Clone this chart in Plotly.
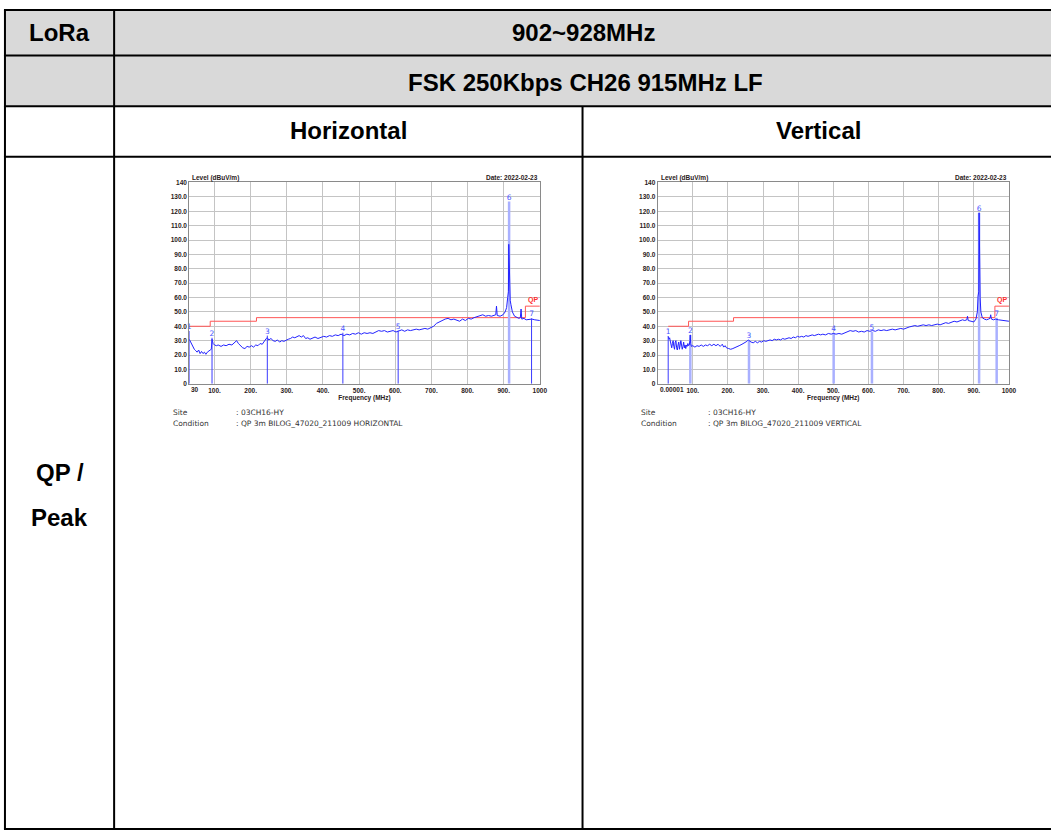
import plotly.graph_objects as go

W, H = 1051, 835

# ---------------- data ----------------
h_freq = [30, 32, 35, 40, 44, 48, 52, 56, 60, 64, 68, 72, 76, 80, 84, 88, 91, 93, 96, 100,
          105, 110, 118, 125, 132, 140, 148, 155, 161, 166, 172, 178, 184, 190, 196, 202, 208,
          214, 220, 226, 232, 238, 243, 246,
          250, 256, 262, 268, 274, 280, 286, 292, 298, 304, 310, 316, 322, 328, 334, 340, 346,
          352, 358, 364, 370, 378, 386, 394, 402, 410, 418, 426, 434, 442, 450, 458, 466, 474,
          482, 490, 498, 506, 514, 522, 530, 538, 546, 554, 562, 570, 578, 586, 594, 602, 610,
          618, 626, 634, 642, 650, 658, 666, 674, 682, 690, 698, 706, 714, 722, 730, 738, 746,
          754, 762, 770, 778, 786, 794, 802, 810, 818, 826, 834, 842, 850, 858, 866, 874, 878,
          880, 882, 890, 898, 904, 908, 911, 913, 914, 914.9, 916, 918, 920, 924, 930, 936, 942,
          946, 948, 950, 956, 962, 970, 978, 986, 994, 1000]
h_level = [31, 30, 28, 26, 24, 23, 22, 23.5, 21, 22.5, 21, 22, 20.5, 22, 23, 23.5, 24, 31, 28, 27,
           26.5, 27, 26, 27, 26.5, 27.5, 27, 28.5, 30, 28, 26.5, 25, 24.5, 26, 25.5, 26.5, 25.5,
           27, 26.5, 28, 27.5, 30, 31.5, 32,
           30.5, 31.5, 30, 29.5, 30.5, 29, 30, 29.5, 30.5, 31, 31.5, 32.5, 32, 33, 33.5, 32.5, 33.5,
           31.5, 32, 31, 31.5, 32.5, 31.5, 32.5, 33, 32.5, 33.5, 33, 34, 33.5, 34.5, 33.5, 34.5, 34,
           35, 34.5, 35.5, 34.5, 35.5, 35, 35.5, 35, 36, 37, 36.5, 37, 36, 36.5, 37, 36, 36.5,
           37.5, 36.5, 37.5, 37, 37.5, 38, 37.5, 38, 38.5, 38, 39, 40, 42, 43, 44.5, 45, 45.5,
           44.5, 45, 44, 43.5, 45, 44, 45.5, 45, 46, 46.5, 47, 48, 47, 47.5, 47, 47.5, 48,
           54, 47.5, 47, 48, 50, 53, 60, 64, 97, 88, 62, 58, 55, 50, 47, 46, 45.5,
           46, 52, 45, 45.5, 44.5, 45, 45, 44.5, 44, 44]

v_freq = [30, 32, 34, 36, 38, 40, 42, 44, 46, 48, 50, 52, 54, 56, 58, 60, 62, 64, 66, 68, 70,
          72, 74, 76, 78, 80, 82, 84, 86, 88, 90, 92, 93, 94, 96,
          100, 106, 112, 118, 124, 130, 136, 142, 148, 154, 160, 166, 172, 178, 184, 188, 192,
          196, 202, 208, 214, 220, 226, 232, 240, 248, 254, 258,
          260, 266, 272, 278, 284, 290, 296, 302, 308, 314, 320, 326, 332, 338, 344, 350, 356,
          362, 368, 374, 380, 386, 392, 398, 404, 410, 416, 422, 428, 434, 440, 446, 452, 458,
          464, 470, 478, 486, 494, 500, 508, 516, 524, 532, 540, 548, 556, 564, 572, 580, 588,
          596, 604, 612, 620, 628, 636, 644, 652, 660, 668, 676, 684, 692, 700, 708, 716, 724,
          732, 740, 748, 756, 764, 772, 780, 788, 796, 804, 812, 820, 828, 836, 844, 852, 860,
          868, 874, 880,
          882, 884, 892, 900, 906, 910, 912, 914, 915, 916, 918, 920,
          924, 930, 936, 942, 946, 948, 950, 956, 962, 970, 980, 990, 1000]
v_level = [33, 31, 32, 29, 27, 25, 28, 30, 26, 24, 29, 30, 25, 23.5, 27, 29, 24, 26, 30, 27, 24,
           26, 29, 25, 27, 24.5, 27, 26, 28, 26.5, 27, 30, 34, 28, 26,
           26.5, 25.5, 26.5, 26, 27, 26, 27, 26.5, 27.5, 26.5, 27.5, 26.5, 27.5, 26, 27.5, 25.5,
           26.5, 25, 24.5, 24, 24.5, 25, 25.5, 26.5, 27.5, 28.5, 29.5, 30.5,
           30, 29, 28.5, 29.5, 28.5, 29.5, 29, 30, 29.5, 30, 30.5, 30, 31, 30.5, 31, 30.5, 31.5,
           31, 31.5, 32, 31.5, 32.5, 32, 33, 32.5, 33, 32.5, 33.5, 33, 33.5, 34, 33.5, 34, 34.5,
           34, 34.5, 34, 35, 34.5, 35, 34.5, 35, 34.5, 35.5, 36, 37, 36.5, 37, 36, 36.5, 36,
           37, 36.5, 37, 36.5, 37.5, 37, 37.5, 37, 37.5, 38, 37.5, 38, 38.5, 38, 39, 39.5, 40,
           40.5, 40, 40.5, 41, 40.5, 41, 40.5, 41, 41.5, 41, 42, 42.5, 42, 43, 43.5, 43, 44,
           44.5, 44, 44.5,
           47, 44, 43.5, 43, 45, 50, 61, 64, 119, 80, 60, 50,
           46, 45, 44.5, 45, 45.5, 48, 45, 44.5, 45, 44.5, 44, 44, 43.5]

limit_freq = [30, 88, 216, 960, 1000]
limit_level = [40, 43.5, 46, 54, 54]

h_marker_freq = [30, 93, 246, 455, 608, 914.9, 977]
h_marker_level = [36.7, 32, 33.5, 35.5, 37, 126.8, 45.5]
v_marker_freq = [30, 93, 260, 501, 610, 915, 965]
v_marker_level = [33, 34, 30.5, 35.5, 36, 118.8, 46]
marker_ids = ["1", "2", "3", "4", "5", "6", "7"]

y_tickvals = [0, 10, 20, 30, 40, 50, 60, 70, 80, 90, 100, 110, 120, 130, 140]
y_ticktext = ["0", "10.0", "20.0", "30.0", "40.0", "50.0", "60.0", "70.0", "80.0", "90.0",
              "100.0", "110.0", "120.0", "130.0", "140"]
x_tickvals = [100, 200, 300, 400, 500, 600, 700, 800, 900, 1000]
x_ticktext = ["100.", "200.", "300.", "400.", "500.", "600.", "700.", "800.", "900.", "1000"]

h_start_label = "30"
v_start_label = "0.00001"
site_text = ": 03CH16-HY"
h_condition = ": QP 3m BILOG_47020_211009 HORIZONTAL"
v_condition = ": QP 3m BILOG_47020_211009 VERTICAL"
date_text = "Date: 2022-02-23"

# ---------------- helpers ----------------
def px(x):
    return x / W

def py(y):
    return 1 - y / H

fig = go.Figure()

TRACE_BLUE = "#2222ff"
DARK_MARK = "#3a3aff"
LIGHT_MARK = "#a9b0ff"
LIMIT_RED = "#ff5555"

charts = [
    dict(xa="x", ya="y", freq=h_freq, level=h_level, mf=h_marker_freq, ml=h_marker_level,
         light=[5]),
    dict(xa="x2", ya="y2", freq=v_freq, level=v_level, mf=v_marker_freq, ml=v_marker_level,
         light=[1, 2, 3, 4, 5, 6]),
]

for c in charts:
    fig.add_trace(go.Scatter(x=limit_freq, y=limit_level, mode="lines", line_shape="hv",
                             line=dict(color=LIMIT_RED, width=1), xaxis=c["xa"], yaxis=c["ya"],
                             hoverinfo="skip"))
    lx, ly, dx, dy = [], [], [], []
    for i, (f, l) in enumerate(zip(c["mf"], c["ml"])):
        if i in c["light"]:
            lx += [f, f, None]
            ly += [0, l, None]
        else:
            dx += [f, f, None]
            dy += [0, l, None]
    fig.add_trace(go.Scatter(x=lx, y=ly, mode="lines", line=dict(color=LIGHT_MARK, width=2.5),
                             xaxis=c["xa"], yaxis=c["ya"], hoverinfo="skip"))
    fig.add_trace(go.Scatter(x=c["freq"], y=c["level"], mode="lines",
                             line=dict(color=TRACE_BLUE, width=1), xaxis=c["xa"], yaxis=c["ya"]))
    fig.add_trace(go.Scatter(x=dx, y=dy, mode="lines", line=dict(color=DARK_MARK, width=1),
                             xaxis=c["xa"], yaxis=c["ya"], hoverinfo="skip"))
    fig.add_trace(go.Scatter(x=c["mf"], y=c["ml"], mode="text", text=marker_ids,
                             textposition="top center", cliponaxis=False,
                             textfont=dict(size=7.5, color="#4a55ff", family="DejaVu Sans"),
                             xaxis=c["xa"], yaxis=c["ya"], hoverinfo="skip"))

tick_font = dict(size=6.5, color="#2a2020", family="Liberation Sans", weight="bold")
axis_common = dict(showgrid=True, gridcolor="#c4c4c4", gridwidth=1, zeroline=False,
                   showline=True, mirror=True, linecolor="#8a8a8a", linewidth=1,
                   ticks="", tickfont=tick_font)

left_dom = [px(190.7), px(544)]
right_dom = [px(662.7), px(1016.7)]
ydom = [py(383), py(180)]
title_font = dict(size=6.5, color="#2a2020", family="Liberation Sans", weight="bold")

fig.update_layout(
    width=W, height=H, margin=dict(l=0, r=0, t=0, b=0),
    paper_bgcolor="white", plot_bgcolor="white", showlegend=False,
    xaxis=dict(domain=left_dom, range=[30, 1000], tickvals=x_tickvals, ticktext=x_ticktext,
               anchor="y", title=dict(text="Frequency (MHz)", standoff=1, font=title_font),
               **axis_common),
    yaxis=dict(domain=ydom, range=[0, 140], tickvals=y_tickvals, ticktext=y_ticktext,
               anchor="x", **axis_common),
    xaxis2=dict(domain=right_dom, range=[0, 1000], tickvals=x_tickvals, ticktext=x_ticktext,
                anchor="y2", title=dict(text="Frequency (MHz)", standoff=1, font=title_font),
                **axis_common),
    yaxis2=dict(domain=ydom, range=[0, 140], tickvals=y_tickvals, ticktext=y_ticktext,
                anchor="x2", **axis_common),
)

# ---------------- table ----------------
TL, TR, TT, TB = 5, 1062, 6, 832
shapes = []
shapes.append(dict(type="rect", xref="paper", yref="paper", x0=px(TL), x1=px(TR),
                   y0=py(103), y1=py(TT), fillcolor="#d9d9d9", line=dict(width=0),
                   layer="below"))
for yy in [TT, 52, 103, 154, TB]:
    shapes.append(dict(type="line", xref="paper", yref="paper", x0=px(TL - 1), x1=px(TR),
                       y0=py(yy), y1=py(yy), line=dict(color="black", width=2)))
for xx, y0 in [(TL, TT), (115, TT), (587, 103), (TR, TT)]:
    shapes.append(dict(type="line", xref="paper", yref="paper", x0=px(xx), x1=px(xx),
                       y0=py(y0), y1=py(TB), line=dict(color="black", width=2)))
fig.update_layout(shapes=shapes)

annotations = []
def ann(text, x, y, size, xanchor="center", family="Liberation Sans", bold=True,
        color="black", yanchor="middle"):
    annotations.append(dict(text=text, x=px(x), y=py(y), xref="paper", yref="paper",
                            xanchor=xanchor, yanchor=yanchor, showarrow=False,
                            font=dict(size=size, family=family, color=color,
                                      weight="bold" if bold else "normal")))

TS = 24
ann("LoRa", 60, 29, TS)
ann("902~928MHz", 588, 29, TS)
ann("FSK 250Kbps CH26 915MHz LF", 590, 79, TS)
ann("Horizontal", 351, 128, TS)
ann("Vertical", 825, 128, TS)
ann("QP /", 60, 472, TS)
ann("Peak", 60, 518, TS)

for (l, r, start_lbl, cond, sx, cx) in [
    (190.7, 544, h_start_label, h_condition, 172, 236),
    (662.7, 1016.7, v_start_label, v_condition, 644, 711),
]:
    ann("Level (dBuV/m)", l + 1, 175.5, 6.5, xanchor="left", color="#2a2020")
    ann(date_text, r, 175, 6.5, xanchor="right", color="#2a2020")
    ann(start_lbl, l, 388.5, 6.5, xanchor="left", color="#2a2020")
    ann("Site", sx, 411.7, 7.5, xanchor="left", family="DejaVu Sans", bold=False, color="#333")
    ann(site_text, cx, 411.7, 7.5, xanchor="left", family="DejaVu Sans", bold=False, color="#333")
    ann("Condition", sx, 422.7, 7.5, xanchor="left", family="DejaVu Sans", bold=False,
        color="#333")
    ann(cond, cx, 422.7, 7.5, xanchor="left", family="DejaVu Sans", bold=False, color="#333")

for xa, ya in [("x", "y"), ("x2", "y2")]:
    annotations.append(dict(text="QP", x=limit_freq[-2] + 20, y=54, xref=xa, yref=ya,
                            yanchor="bottom", xanchor="center", showarrow=False,
                            font=dict(size=7, color="#ff3030", family="Liberation Sans",
                                      weight="bold")))

fig.update_layout(annotations=annotations)

fig.write_html("out.html", config={"displayModeBar": False},
               post_script="document.body.style.margin='0px';"
                           "document.body.style.overflow='hidden';")
